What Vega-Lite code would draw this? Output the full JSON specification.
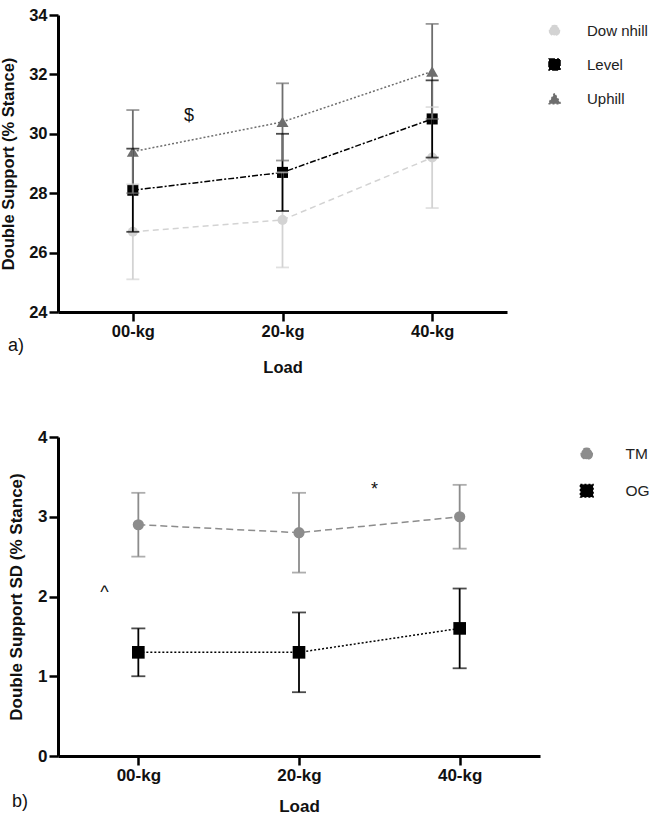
{
  "$schema": "https://vega.github.io/schema/vega-lite/v6.json",
  "padding": {"left": 0, "top": 7, "right": 5, "bottom": 0},
  "background": "white",
  "config": {
    "font": "Liberation Sans",
    "view": {"stroke": null},
    "axis": {
      "grid": false,
      "domainColor": "#000000",
      "domainWidth": 3,
      "tickColor": "#000000",
      "tickWidth": 2.5,
      "tickSize": 9,
      "labelPadding": 2,
      "labelFont": "Liberation Sans",
      "labelFontWeight": "bold",
      "labelColor": "#111111",
      "titleFont": "Liberation Sans",
      "titleFontWeight": "bold",
      "titleColor": "#111111"
    },
    "legend": {
      "labelFont": "Liberation Sans",
      "labelColor": "#222222",
      "labelFontSize": 15,
      "symbolStrokeWidth": 1.5
    }
  },
  "resolve": {"scale": {"color": "independent", "shape": "independent", "size": "independent", "strokeDash": "independent"}},
  "spacing": 52,
  "vconcat": [
    {
      "width": 449,
      "height": 297,
      "data": {"values": [
        {"x": 0, "load": "00-kg", "series": "Dow nhill", "mean": 26.7, "lo": 25.1, "hi": 28.3},
        {"x": 1, "load": "20-kg", "series": "Dow nhill", "mean": 27.1, "lo": 25.5, "hi": 28.7},
        {"x": 2, "load": "40-kg", "series": "Dow nhill", "mean": 29.2, "lo": 27.5, "hi": 30.9},
        {"x": 0, "load": "00-kg", "series": "Level", "mean": 28.1, "lo": 26.7, "hi": 29.5},
        {"x": 1, "load": "20-kg", "series": "Level", "mean": 28.7, "lo": 27.4, "hi": 30.0},
        {"x": 2, "load": "40-kg", "series": "Level", "mean": 30.5, "lo": 29.2, "hi": 31.8},
        {"x": 0, "load": "00-kg", "series": "Uphill", "mean": 29.4, "lo": 28.0, "hi": 30.8},
        {"x": 1, "load": "20-kg", "series": "Uphill", "mean": 30.4, "lo": 29.1, "hi": 31.7},
        {"x": 2, "load": "40-kg", "series": "Uphill", "mean": 32.1, "lo": 30.5, "hi": 33.7}
      ]},
      "encoding": {
        "x": {"field": "x", "type": "quantitative", "title": "Load", "scale": {"domain": [-0.5, 2.5], "nice": false, "zero": false},
              "axis": {"values": [0, 1, 2], "labelExpr": "datum.value == 0 ? '00-kg' : datum.value == 1 ? '20-kg' : '40-kg'", "labelFontSize": 16.5, "titleFontSize": 16.5, "titlePadding": 20}},
        "y": {"field": "mean", "type": "quantitative", "title": "Double Support  (% Stance)", "scale": {"domain": [24, 34], "nice": false, "zero": false},
              "axis": {"values": [24, 26, 28, 30, 32, 34], "labelFontSize": 16.5, "titleFontSize": 16.5, "titlePadding": 12}},
        "color": {"field": "series", "type": "nominal",
                  "scale": {"domain": ["Dow nhill", "Level", "Uphill"], "range": ["#d3d3d3", "#000000", "#6e6e6e"]},
                  "legend": {"title": null, "orient": "right", "offset": 32, "padding": 8, "labelOffset": 25, "rowPadding": 16}}
      },
      "layer": [
        {
          "mark": {"type": "line", "strokeWidth": 1.5},
          "encoding": {
            "strokeDash": {"field": "series", "type": "nominal",
                           "scale": {"domain": ["Dow nhill", "Level", "Uphill"], "range": [[6, 4], [6, 2, 2, 2], [2, 2]]}, "legend": null}
          }
        },
        {
          "mark": {"type": "point", "filled": true, "opacity": 1},
          "encoding": {
            "shape": {"field": "series", "type": "nominal", "scale": {"domain": ["Dow nhill", "Level", "Uphill"], "range": ["circle", "square", "triangle-up"]}, "legend": null},
            "size": {"field": "series", "type": "nominal", "scale": {"domain": ["Dow nhill", "Level", "Uphill"], "range": [100, 144, 150]}, "legend": null}
          }
        },
        {
          "mark": {"type": "rule", "strokeWidth": 1.8},
          "encoding": {
            "y": {"field": "lo", "type": "quantitative", "title": "Double Support  (% Stance)", "scale": {"domain": [24, 34], "nice": false, "zero": false}},
            "y2": {"field": "hi"}
          }
        },
        {
          "mark": {"type": "tick", "orient": "horizontal", "thickness": 1.8, "size": 13},
          "encoding": {
            "y": {"field": "lo", "type": "quantitative", "title": "Double Support  (% Stance)", "scale": {"domain": [24, 34], "nice": false, "zero": false}}
          }
        },
        {
          "mark": {"type": "tick", "orient": "horizontal", "thickness": 1.8, "size": 13},
          "encoding": {
            "y": {"field": "hi", "type": "quantitative", "title": "Double Support  (% Stance)", "scale": {"domain": [24, 34], "nice": false, "zero": false}}
          }
        },
        {
          "data": {"values": [
            {"ax": 0.375, "ay": 30.61, "label": "$"},
            {"ax": -0.78, "ay": 22.85, "label": "a)"}
          ]},
          "mark": {"type": "text", "fontSize": 18, "font": "Liberation Sans", "color": "#111111", "baseline": "middle", "align": "center"},
          "encoding": {
            "x": {"field": "ax", "type": "quantitative", "title": "Load", "scale": {"domain": [-0.5, 2.5], "nice": false, "zero": false}},
            "y": {"field": "ay", "type": "quantitative", "title": "Double Support  (% Stance)", "scale": {"domain": [24, 34], "nice": false, "zero": false}},
            "color": {"value": "#111111"},
            "text": {"field": "label"}
          }
        }
      ]
    },
    {
      "width": 482,
      "height": 319,
      "data": {"values": [
        {"x": 0, "load": "00-kg", "series": "TM", "mean": 2.9, "lo": 2.5, "hi": 3.3},
        {"x": 1, "load": "20-kg", "series": "TM", "mean": 2.8, "lo": 2.3, "hi": 3.3},
        {"x": 2, "load": "40-kg", "series": "TM", "mean": 3.0, "lo": 2.6, "hi": 3.4},
        {"x": 0, "load": "00-kg", "series": "OG", "mean": 1.3, "lo": 1.0, "hi": 1.6},
        {"x": 1, "load": "20-kg", "series": "OG", "mean": 1.3, "lo": 0.8, "hi": 1.8},
        {"x": 2, "load": "40-kg", "series": "OG", "mean": 1.6, "lo": 1.1, "hi": 2.1}
      ]},
      "encoding": {
        "x": {"field": "x", "type": "quantitative", "title": "Load", "scale": {"domain": [-0.5, 2.5], "nice": false, "zero": false},
              "axis": {"values": [0, 1, 2], "labelExpr": "datum.value == 0 ? '00-kg' : datum.value == 1 ? '20-kg' : '40-kg'", "labelFontSize": 17, "titleFontSize": 17, "titlePadding": 15}},
        "y": {"field": "mean", "type": "quantitative", "title": "Double Support SD (% Stance)", "scale": {"domain": [0, 4], "nice": false, "zero": false},
              "axis": {"values": [0, 1, 2, 3, 4], "labelFontSize": 17, "titleFontSize": 17, "titlePadding": 12}},
        "color": {"field": "series", "type": "nominal",
                  "scale": {"domain": ["TM", "OG"], "range": ["#8c8c8c", "#000000"]},
                  "legend": {"title": null, "orient": "right", "offset": 30, "padding": 9, "labelOffset": 31, "rowPadding": 18, "labelFontSize": 15.5}}
      },
      "layer": [
        {
          "mark": {"type": "line", "strokeWidth": 1.5},
          "encoding": {
            "strokeDash": {"field": "series", "type": "nominal",
                           "scale": {"domain": ["TM", "OG"], "range": [[7, 4], [2, 2]]}, "legend": null}
          }
        },
        {
          "mark": {"type": "point", "filled": true, "opacity": 1},
          "encoding": {
            "shape": {"field": "series", "type": "nominal", "scale": {"domain": ["TM", "OG"], "range": ["circle", "square"]}, "legend": null},
            "size": {"field": "series", "type": "nominal", "scale": {"domain": ["TM", "OG"], "range": [125, 160]}, "legend": null}
          }
        },
        {
          "mark": {"type": "rule", "strokeWidth": 1.8},
          "encoding": {
            "y": {"field": "lo", "type": "quantitative", "title": "Double Support SD (% Stance)", "scale": {"domain": [0, 4], "nice": false, "zero": false}},
            "y2": {"field": "hi"}
          }
        },
        {
          "mark": {"type": "tick", "orient": "horizontal", "thickness": 1.8, "size": 14},
          "encoding": {
            "y": {"field": "lo", "type": "quantitative", "title": "Double Support SD (% Stance)", "scale": {"domain": [0, 4], "nice": false, "zero": false}}
          }
        },
        {
          "mark": {"type": "tick", "orient": "horizontal", "thickness": 1.8, "size": 14},
          "encoding": {
            "y": {"field": "hi", "type": "quantitative", "title": "Double Support SD (% Stance)", "scale": {"domain": [0, 4], "nice": false, "zero": false}}
          }
        },
        {
          "data": {"values": [
            {"ax": 1.47, "ay": 3.33, "label": "*"},
            {"ax": -0.21, "ay": 2.05, "label": "^"},
            {"ax": -0.737, "ay": -0.58, "label": "b)"}
          ]},
          "mark": {"type": "text", "fontSize": 18, "font": "Liberation Sans", "color": "#111111", "baseline": "middle", "align": "center"},
          "encoding": {
            "x": {"field": "ax", "type": "quantitative", "title": "Load", "scale": {"domain": [-0.5, 2.5], "nice": false, "zero": false}},
            "y": {"field": "ay", "type": "quantitative", "title": "Double Support SD (% Stance)", "scale": {"domain": [0, 4], "nice": false, "zero": false}},
            "color": {"value": "#111111"},
            "text": {"field": "label"}
          }
        }
      ]
    }
  ]
}
